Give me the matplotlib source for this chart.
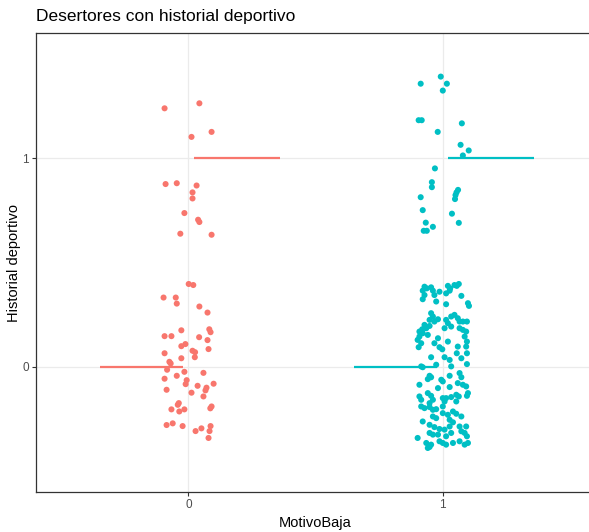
import matplotlib
matplotlib.use("Agg")
import matplotlib.pyplot as plt
import numpy as np

plt.rcParams['font.family'] = ['Liberation Sans', 'DejaVu Sans']

title = "Desertores con historial deportivo"
x_label = "MotivoBaja"
y_label = "Historial deportivo"
categories = ["0", "1"]
colors = ["#F8766D", "#00BFC4"]

# group "0": jitter offset from category position, and jittered y value
g0_dx = [-0.094, 0.043, 0.091, 0.012, -0.090, -0.046, 0.032, 0.016, 0.016, -0.016,
         0.038, 0.043, -0.032, 0.091,
         0.001, 0.019, -0.098, -0.050, -0.046, 0.043, 0.075, 0.082, 0.087, -0.028,
         -0.094, -0.067, 0.042, 0.075, -0.028, -0.012, -0.094, 0.016, 0.026, 0.079,
         0.025, -0.028, -0.075, -0.070, -0.084, -0.016, 0.059, -0.094, -0.046, -0.007,
         -0.011, 0.099, 0.036, 0.071, 0.067, -0.086, 0.012, 0.059, -0.038, -0.042,
         0.091, 0.086, -0.067, -0.036, -0.016, -0.086, -0.062, -0.023, 0.087, 0.051,
         0.028, 0.083, 0.079]
g0_y = [1.239, 1.263, 1.126, 1.102, 0.876, 0.880, 0.869, 0.836, 0.807, 0.737,
        0.705, 0.694, 0.638, 0.633,
        0.397, 0.392, 0.332, 0.332, 0.303, 0.289, 0.260, 0.180, 0.166, 0.175,
        0.147, 0.147, 0.142, 0.128, 0.099, 0.109, 0.065, 0.077, 0.070, 0.085,
        0.046, 0.041, 0.024, 0.016, -0.014, -0.024, -0.029, -0.057, -0.043, -0.064,
        -0.083, -0.081, -0.091, -0.100, -0.113, -0.110, -0.124, -0.142, -0.174, -0.182,
        -0.190, -0.199, -0.204, -0.214, -0.204, -0.279, -0.271, -0.284, -0.284, -0.295,
        -0.308, -0.308, -0.341]

# group "1"
g1_dx = [-0.007, -0.086, 0.017, 0.001, -0.094, -0.082, 0.076, -0.019, 0.071, 0.103,
         0.080, -0.030, -0.042, -0.042, 0.061, 0.055, 0.051, 0.049, -0.086, -0.078,
         0.037, -0.066, -0.038, 0.064, -0.074, -0.062,
         -0.071, -0.062, -0.078, -0.045, -0.038, -0.071, -0.078, -0.032, -0.012, 0.021,
         0.030, 0.047, 0.056, 0.064, 0.028, 0.014, 0.074, -0.025, 0.014, 0.100,
         0.104, -0.045, -0.038, -0.051, -0.032, -0.018, 0.014, 0.034, 0.047, 0.060,
         0.067, 0.080, 0.096, 0.021, -0.071, -0.080, -0.091, -0.064, -0.051, 0.008,
         0.034, 0.067, 0.080, 0.093, -0.091, -0.078, -0.058, -0.018, 0.021, 0.087,
         0.096, -0.098, -0.084, -0.094, -0.032, -0.012, -0.001, 0.060, 0.093, 0.056,
         0.096, -0.045, 0.008, 0.028, 0.074, -0.025, 0.096, -0.084, -0.078, 0.034,
         -0.051, -0.045, -0.058, -0.005, 0.001, 0.028, 0.067, 0.074, -0.091, 0.060,
         0.080, -0.018, 0.028, 0.093, 0.100, 0.096, -0.058, -0.045, -0.091, -0.084,
         0.001, 0.014, 0.034, 0.054, 0.064, 0.054, -0.038, -0.051, 0.008, -0.084,
         -0.071, -0.051, -0.038, -0.025, 0.001, 0.041, 0.054, 0.074, -0.078, -0.038,
         -0.025, 0.001, 0.021, 0.028, 0.041, -0.051, -0.032, -0.012, 0.008, 0.028,
         0.067, 0.093, -0.098, -0.051, -0.038, -0.018, 0.014, 0.034, 0.074, 0.087,
         0.096, -0.064, -0.045, -0.058, -0.012, 0.001, 0.014, 0.041, 0.067, 0.100,
         0.087, -0.051]
g1_y = [1.391, 1.357, 1.357, 1.324, 1.182, 1.182, 1.167, 1.126, 1.064, 1.037,
        1.013, 0.951, 0.885, 0.861, 0.848, 0.836, 0.823, 0.804, 0.813, 0.751,
        0.734, 0.691, 0.671, 0.690, 0.652, 0.652,
        0.384, 0.376, 0.365, 0.381, 0.365, 0.344, 0.324, 0.344, 0.360, 0.388,
        0.376, 0.392, 0.388, 0.397, 0.365, 0.352, 0.340, 0.313, 0.300, 0.305,
        0.292, 0.257, 0.241, 0.225, 0.217, 0.228, 0.225, 0.241, 0.249, 0.233,
        0.217, 0.217, 0.217, 0.209, 0.201, 0.180, 0.169, 0.185, 0.196, 0.185,
        0.193, 0.185, 0.177, 0.169, 0.145, 0.161, 0.153, 0.137, 0.121, 0.145,
        0.121, 0.129, 0.113, 0.094, 0.113, 0.094, 0.084, 0.097, 0.097, 0.065,
        0.065, 0.046, 0.046, 0.033, 0.041, 0.010, 0.013, 0.002, -0.002, 0.002,
        -0.043, -0.050, -0.059, -0.062, -0.070, -0.043, -0.030, -0.050, -0.086, -0.078,
        -0.086, -0.102, -0.097, -0.094, -0.126, -0.139, -0.126, -0.139, -0.142, -0.158,
        -0.150, -0.150, -0.145, -0.134, -0.142, -0.166, -0.158, -0.174, -0.166, -0.190,
        -0.198, -0.193, -0.206, -0.203, -0.190, -0.214, -0.225, -0.238, -0.262, -0.238,
        -0.246, -0.222, -0.230, -0.254, -0.266, -0.278, -0.289, -0.298, -0.301, -0.286,
        -0.286, -0.286, -0.341, -0.317, -0.325, -0.325, -0.333, -0.317, -0.309, -0.317,
        -0.333, -0.365, -0.373, -0.389, -0.357, -0.365, -0.373, -0.365, -0.357, -0.365,
        -0.373, -0.384]

# horizontal reference segments per group: (value, start offset, end offset)
seg_values = [0, 1]
seg_ranges = [(-0.35, -0.02), (0.02, 0.36)]

fig = plt.figure(figsize=(5.89, 5.32), dpi=100)
left = 36 / 589
right = 595 / 589
bottom = 1 - 492 / 532
top = 1 - 33 / 532
ax = fig.add_axes([left, bottom, right - left, top - bottom])

ax.set_xlim(-0.6, 1.6)
ax.set_ylim(-0.6, 1.6)

for i, (dx, yy) in enumerate([(g0_dx, g0_y), (g1_dx, g1_y)]):
    xs = i + np.array(dx)
    ax.scatter(xs, yy, s=19, color=colors[i], edgecolors='none', zorder=3)
    for v, (a, b) in zip(seg_values, seg_ranges):
        ax.plot([i + a, i + b], [v, v], color=colors[i], lw=1.6, zorder=2,
                solid_capstyle='butt')

ax.set_xticks([0, 1])
ax.set_xticklabels(categories)
ax.set_yticks([0, 1])
ax.set_yticklabels(["0", "1"])
ax.grid(True, color="#EBEBEB", lw=0.9, zorder=0)
ax.set_axisbelow(True)
for s in ax.spines.values():
    s.set_color("#333333")
    s.set_linewidth(0.9)
ax.tick_params(colors="#333333", length=3, width=0.8, labelsize=8.5,
               labelcolor="#4D4D4D", pad=2)

ax.set_xlabel(x_label, fontsize=10.5, color="black", labelpad=4)
ax.set_ylabel(y_label, fontsize=10.5, color="black")
ax.yaxis.set_label_coords(-0.027, 0.5)
fig.text(left, 1 - 16 / 532, title, fontsize=12.5, ha='left', va='center')

fig.savefig("out.png", dpi=100)
